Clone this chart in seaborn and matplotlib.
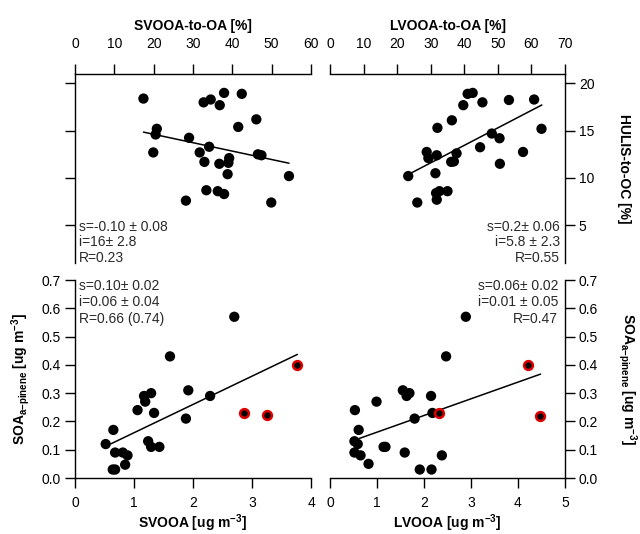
import numpy as np
import pandas as pd
import matplotlib
matplotlib.use("Agg")
import matplotlib.pyplot as plt
import seaborn as sns

# ---------------- data ----------------
# top-left: SVOOA-to-OA [%] vs HULIS-to-OC [%]
sv_frac = [17.4, 32.7, 34.5, 36.8, 37.9, 42.4, 46.1, 41.5, 20.8, 20.5, 29.0, 19.9, 34.1, 31.7,
           32.9, 36.7, 39.2, 39.0, 46.5, 47.4, 38.8, 54.4, 33.4, 36.3, 37.9, 28.2, 49.9]
hulis_sv = [18.4, 18.0, 18.3, 17.7, 19.0, 18.9, 16.2, 15.4, 15.2, 14.6, 14.25, 12.7, 13.3, 12.7,
            11.7, 11.5, 12.1, 11.6, 12.5, 12.4, 10.4, 10.2, 8.7, 8.6, 8.3, 7.6, 7.4]
# top-right: LVOOA-to-OA [%] vs HULIS-to-OC [%]
lv_frac = [23.3, 26.0, 28.8, 29.3, 31.8, 32.0, 31.4, 31.6, 31.8, 32.6, 35.0, 36.3, 36.1, 36.9,
           37.7, 39.7, 41.0, 42.5, 45.4, 44.7, 48.2, 50.5, 50.6, 53.3, 57.5, 60.8, 63.0]
hulis_lv = [10.2, 7.4, 12.75, 12.1, 12.4, 15.3, 10.5, 8.4, 7.7, 8.6, 8.6, 16.1, 11.7, 11.75,
            12.6, 17.7, 18.9, 19.0, 18.0, 13.25, 14.7, 14.2, 11.5, 18.25, 12.75, 18.3, 15.2]
# bottom-left: SVOOA [ug m-3] vs SOA a-pinene
svooa = [0.52, 0.65, 0.64, 0.68, 0.68, 0.81, 0.89, 0.85, 1.06, 1.17, 1.19, 1.29, 1.34, 1.24,
         1.29, 1.43, 1.61, 1.92, 1.88, 2.29, 2.70]
soa_sv = [0.12, 0.17, 0.03, 0.03, 0.09, 0.09, 0.08, 0.047, 0.24, 0.29, 0.27, 0.30, 0.23, 0.13,
          0.11, 0.11, 0.43, 0.31, 0.21, 0.29, 0.57]
svooa_red = [2.86, 3.26, 3.76]
soa_sv_red = [0.23, 0.224, 0.40]
# bottom-right: LVOOA [ug m-3] vs SOA a-pinene
lvooa = [0.53, 0.61, 0.52, 0.59, 0.52, 0.65, 0.82, 0.99, 1.14, 1.18, 1.55, 1.63, 1.69, 1.59,
         1.80, 1.91, 2.16, 2.15, 2.18, 2.38, 2.47, 2.89]
soa_lv = [0.24, 0.17, 0.13, 0.12, 0.09, 0.08, 0.05, 0.27, 0.11, 0.11, 0.31, 0.29, 0.30, 0.09,
          0.21, 0.03, 0.03, 0.29, 0.23, 0.08, 0.43, 0.57]
lvooa_red = [2.31, 4.21, 4.46]
soa_lv_red = [0.23, 0.40, 0.22]

# fit lines (slope, intercept, x-range) as drawn
fit_tl = (-0.089, 16.4, 17.4, 54.4)
fit_tr = (0.185, 6.05, 23.0, 63.1)
fit_bl = (0.10, 0.06, 0.61, 3.77)
fit_br = (0.059, 0.103, 0.62, 4.48)

txt_tl = ["s=-0.10 \u00b1 0.08", "i=16\u00b1 2.8", "R=0.23"]
txt_tr = ["s=0.2\u00b1 0.06", "i=5.8 \u00b1 2.3", "R=0.55"]
txt_bl = ["s=0.10\u00b1 0.02", "i=0.06 \u00b1 0.04", "R=0.66 (0.74)"]
txt_br = ["s=0.06\u00b1 0.02", "i=0.01 \u00b1 0.05", "R=0.47"]

# ---------------- style ----------------
sns.set_theme(style="ticks")
plt.rcParams["font.family"] = ["Liberation Sans", "DejaVu Sans"]
plt.rcParams["mathtext.fontset"] = "custom"
plt.rcParams["mathtext.rm"] = "Liberation Sans"
plt.rcParams["mathtext.bf"] = "Liberation Sans:bold"
plt.rcParams["mathtext.default"] = "bf"
plt.rcParams["axes.linewidth"] = 1.0
plt.rcParams["text.color"] = "black"
plt.rcParams["axes.labelcolor"] = "black"
plt.rcParams["xtick.color"] = "black"
plt.rcParams["ytick.color"] = "black"

fig = plt.figure(figsize=(6.4, 5.34), dpi=100)
W, H = 640, 534
def rect(x0, y0, x1, y1):
    return [x0 / W, 1 - y1 / H, (x1 - x0) / W, (y1 - y0) / H]

ax_tl = fig.add_axes(rect(75, 74, 311, 263))
ax_tr = fig.add_axes(rect(330, 74, 565, 263))
ax_bl = fig.add_axes(rect(75, 280, 311, 478))
ax_br = fig.add_axes(rect(330, 280, 565, 478))

MS = 55
RED = "#dd0000"
TICKFS = 10
LABFS = 10
ANNFS = 10

def dots(ax, x, y):
    sns.scatterplot(x=x, y=y, ax=ax, color="black", s=MS, edgecolor="none", linewidth=0, zorder=3)

def reddots(ax, x, y):
    sns.scatterplot(x=x, y=y, ax=ax, color="black", s=40, edgecolor=RED, linewidth=1.8, zorder=4)

def fitline(ax, fit):
    s, i, x0, x1 = fit
    xx = np.array([x0, x1])
    sns.lineplot(x=xx, y=s * xx + i, ax=ax, color="black", linewidth=1.1, zorder=2)

def style(ax, top=False):
    ax.tick_params(direction="out", length=7, width=1.0, labelsize=TICKFS, colors="black", pad=3)
    if top:
        ax.tick_params(axis="x", pad=9.5)
    else:
        ax.tick_params(axis="x", pad=6)
    for sp in ax.spines.values():
        sp.set_color("black")
    ax.set_facecolor("none")

# top-left
dots(ax_tl, sv_frac, hulis_sv)
fitline(ax_tl, fit_tl)
ax_tl.set_xlim(0, 60); ax_tl.set_ylim(1, 21)
ax_tl.set_xticks([0, 10, 20, 30, 40, 50, 60]); ax_tl.set_yticks([5, 10, 15, 20])
ax_tl.xaxis.tick_top(); ax_tl.xaxis.set_label_position("top")
ax_tl.spines["right"].set_visible(False); ax_tl.spines["bottom"].set_visible(False)
ax_tl.set_yticklabels([])
ax_tl.set_xlabel("SVOOA-to-OA [%]", fontsize=10, fontweight="bold", labelpad=5)
ax_tl.set_ylabel("")
style(ax_tl, top=True)

# top-right
dots(ax_tr, lv_frac, hulis_lv)
fitline(ax_tr, fit_tr)
ax_tr.set_xlim(0, 70); ax_tr.set_ylim(1, 21)
ax_tr.set_xticks([0, 10, 20, 30, 40, 50, 60, 70]); ax_tr.set_yticks([5, 10, 15, 20])
ax_tr.xaxis.tick_top(); ax_tr.xaxis.set_label_position("top")
ax_tr.yaxis.tick_right(); ax_tr.yaxis.set_label_position("right")
ax_tr.spines["left"].set_visible(False); ax_tr.spines["bottom"].set_visible(False)
ax_tr.set_xlabel("LVOOA-to-OA [%]", fontsize=10, fontweight="bold", labelpad=5)
ax_tr.set_ylabel("HULIS-to-OC [%]", fontsize=LABFS, fontweight="bold", rotation=270, labelpad=26)
style(ax_tr, top=True)

ylab = r"SOA$_{a{-}pinene}$ [ug m$^{-3}$]"

# bottom-left
dots(ax_bl, svooa, soa_sv)
reddots(ax_bl, svooa_red, soa_sv_red)
fitline(ax_bl, fit_bl)
ax_bl.set_xlim(0, 4); ax_bl.set_ylim(0, 0.7)
ax_bl.set_xticks([0, 1, 2, 3, 4]); ax_bl.set_yticks(np.arange(0, 0.71, 0.1))
ax_bl.yaxis.set_major_formatter(matplotlib.ticker.FormatStrFormatter("%.1f"))
ax_bl.spines["right"].set_visible(False); ax_bl.spines["top"].set_visible(False)
ax_bl.set_xlabel(r"SVOOA [ug m$^{-3}$]", fontsize=LABFS, fontweight="bold", labelpad=2)
ax_bl.set_ylabel(ylab, fontsize=LABFS, fontweight="bold", labelpad=7)
style(ax_bl)

# bottom-right
dots(ax_br, lvooa, soa_lv)
reddots(ax_br, lvooa_red, soa_lv_red)
fitline(ax_br, fit_br)
ax_br.set_xlim(0, 5); ax_br.set_ylim(0, 0.7)
ax_br.set_xticks([0, 1, 2, 3, 4, 5]); ax_br.set_yticks(np.arange(0, 0.71, 0.1))
ax_br.yaxis.set_major_formatter(matplotlib.ticker.FormatStrFormatter("%.1f"))
ax_br.yaxis.tick_right(); ax_br.yaxis.set_label_position("right")
ax_br.spines["left"].set_visible(False); ax_br.spines["top"].set_visible(False)
ax_br.set_xlabel(r"LVOOA [ug m$^{-3}$]", fontsize=LABFS, fontweight="bold", labelpad=2)
ax_br.set_ylabel(ylab, fontsize=LABFS, fontweight="bold", rotation=270, labelpad=29)
style(ax_br)

for ax in (ax_tl, ax_tr, ax_bl, ax_br):
    for sp in ("left", "right", "top", "bottom"):
        ax.spines[sp].set_clip_on(False)

# annotations (pixel positions converted to axes fraction)
def annotate(ax, lines, x_px, y_px_list, ha, axrect):
    x0, y0, x1, y1 = axrect
    for line, yp in zip(lines, y_px_list):
        ax.text((x_px - x0) / (x1 - x0), (y1 - yp) / (y1 - y0), line, transform=ax.transAxes,
                ha=ha, va="center", fontsize=ANNFS, color="#2a2a2a")

annotate(ax_tl, txt_tl, 79, [227, 242, 258], "left", (75, 74, 311, 263))
annotate(ax_tr, txt_tr, 560, [227, 242, 258], "right", (330, 74, 565, 263))
annotate(ax_bl, txt_bl, 79, [286, 302, 319], "left", (75, 280, 311, 478))
annotate(ax_br, txt_br, 558, [286, 302, 319], "right", (330, 280, 565, 478))

fig.savefig("out.png", dpi=100)
